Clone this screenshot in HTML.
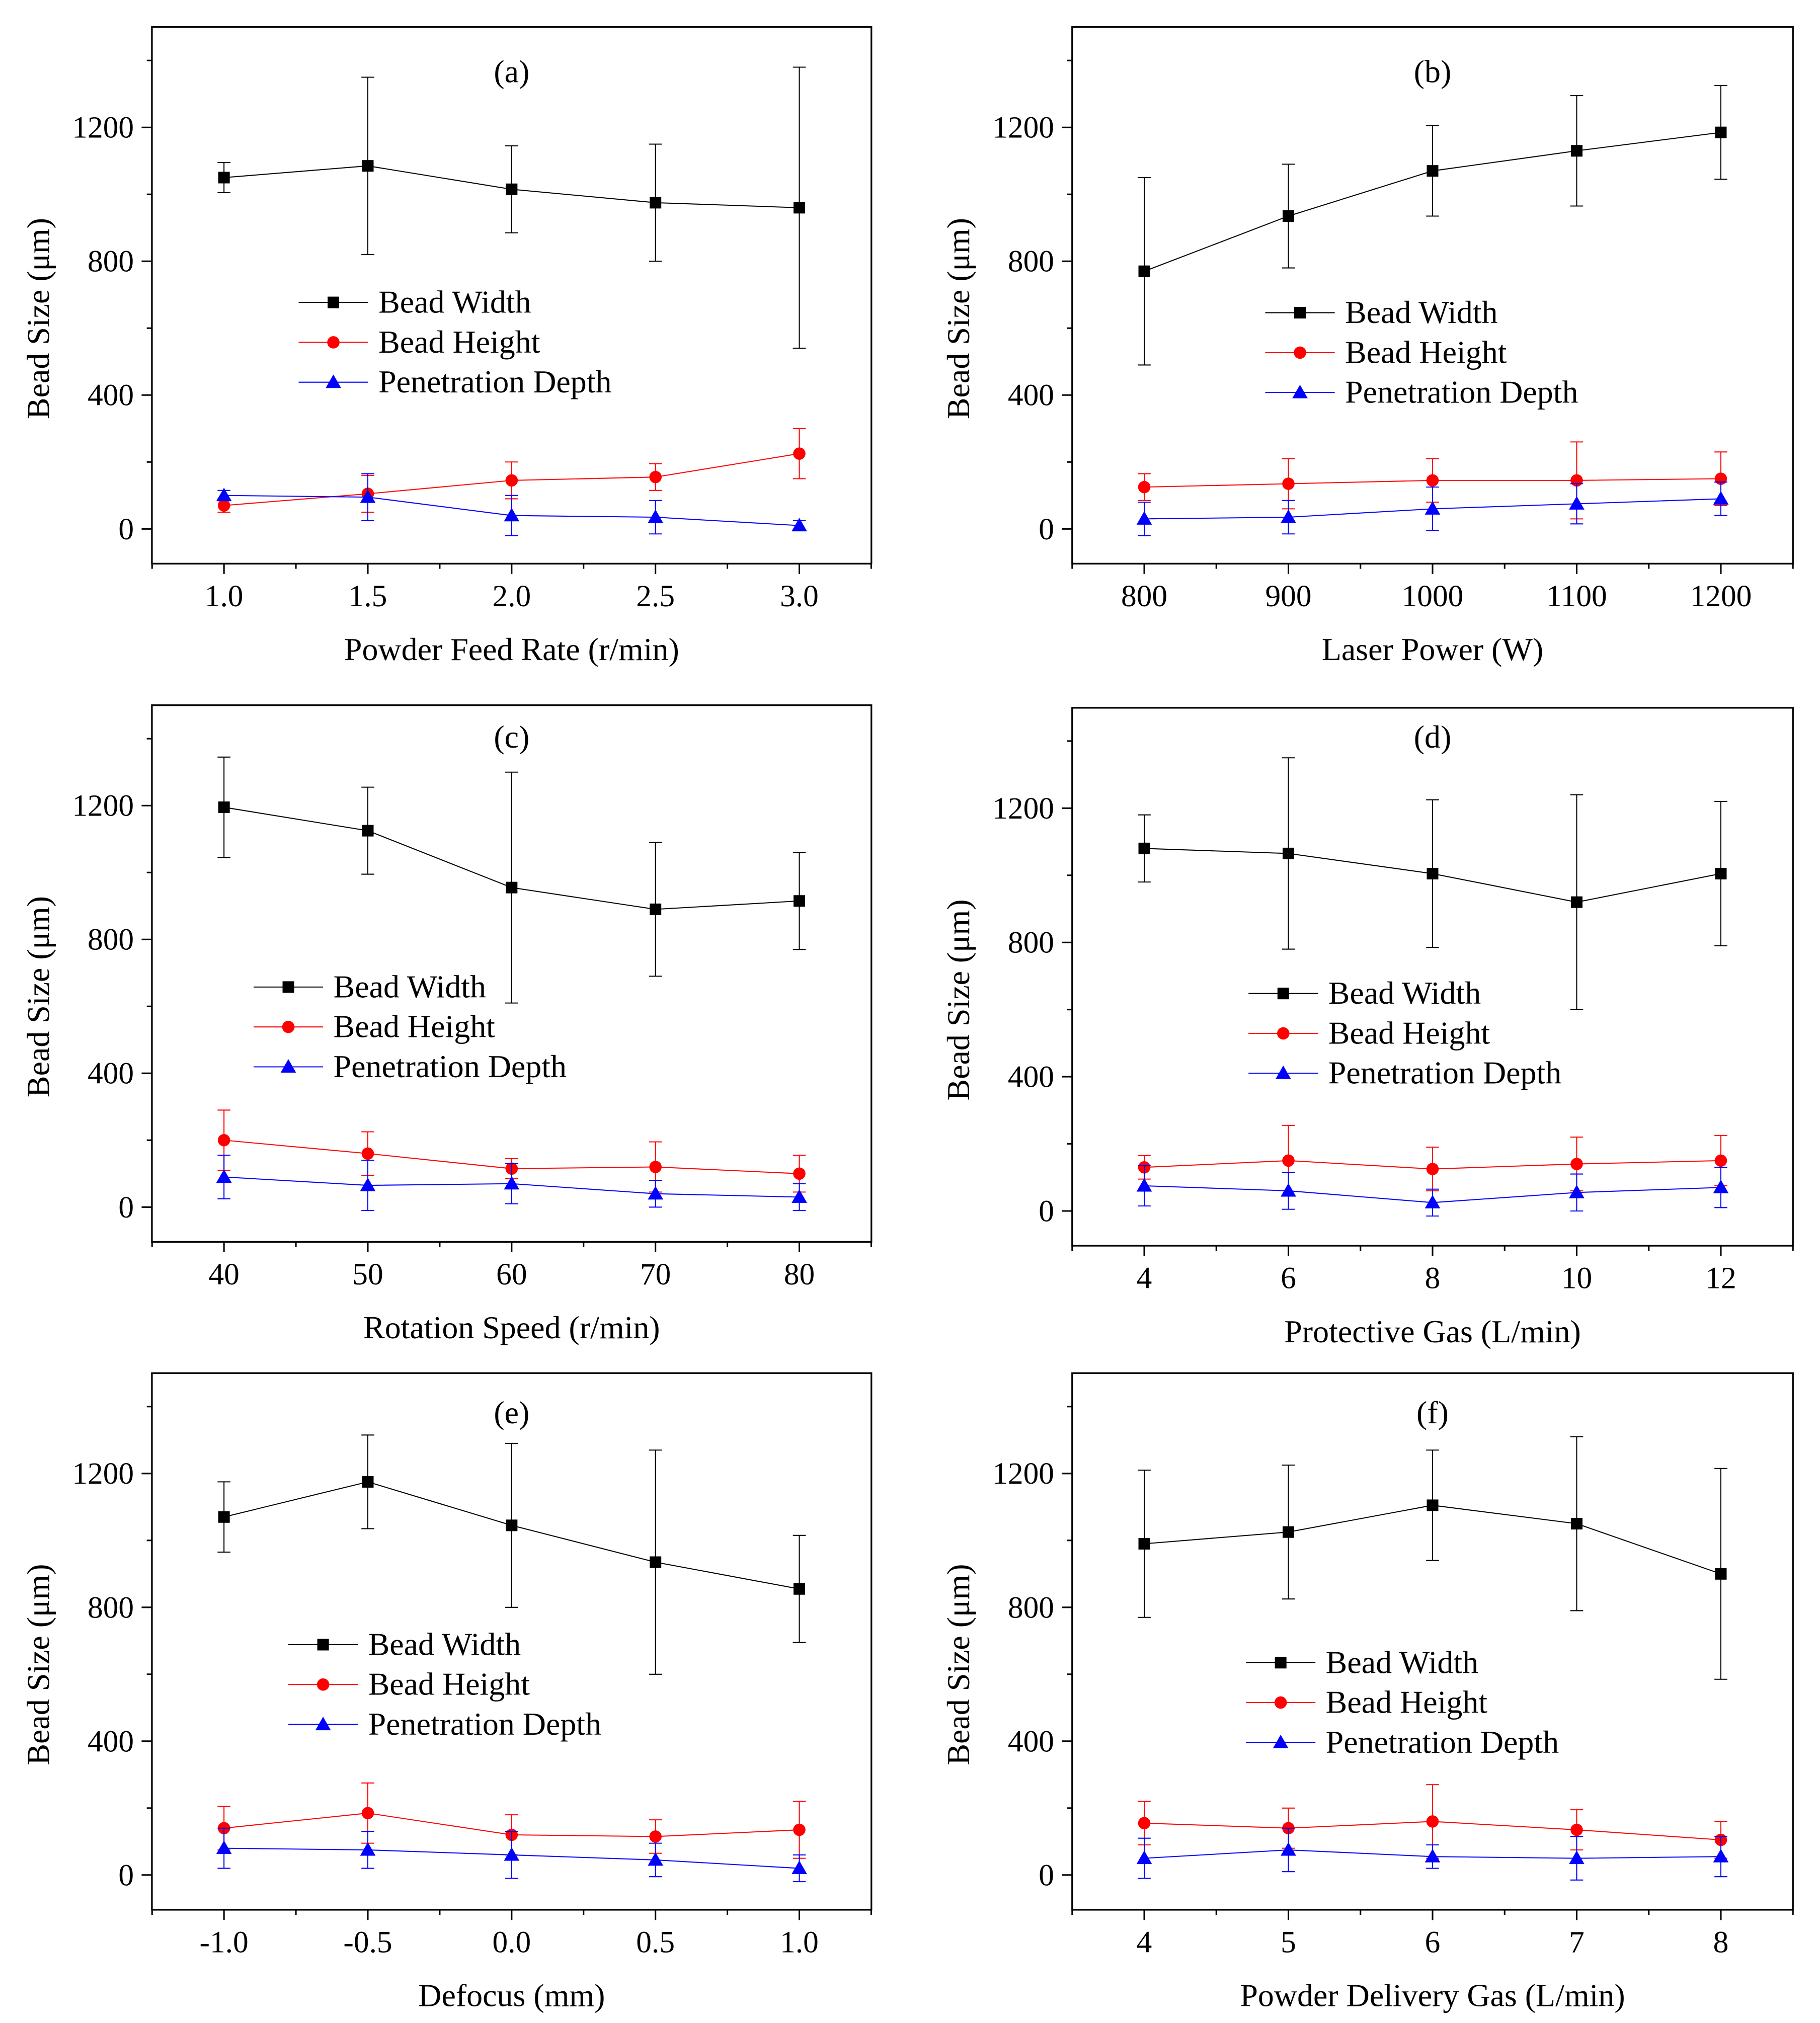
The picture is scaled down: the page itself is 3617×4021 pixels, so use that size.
<!DOCTYPE html>
<html><head><meta charset="utf-8"><style>
html,body{margin:0;padding:0;background:#fff;}
svg{display:block;}
text{font-family:"Liberation Serif","Times New Roman",serif;fill:#000;}
</style></head><body>
<svg id="fig" width="3617" height="4021" viewBox="0 0 1414 1572" xmlns="http://www.w3.org/2000/svg"></svg>
<script>
const panelLabels = ["(a)","(b)","(c)","(d)","(e)","(f)"];
const xTitles = ["Powder Feed Rate (r/min)","Laser Power (W)","Rotation Speed (r/min)","Protective Gas (L/min)","Defocus (mm)","Powder Delivery Gas (L/min)"];
const xCats = [
  ["1.0","1.5","2.0","2.5","3.0"],
  ["800","900","1000","1100","1200"],
  ["40","50","60","70","80"],
  ["4","6","8","10","12"],
  ["-1.0","-0.5","0.0","0.5","1.0"],
  ["4","5","6","7","8"]
];
const yTicks = [0,400,800,1200];
const widthVals = [[1050,1085,1015,975,960],[770,935,1070,1130,1185],[1195,1125,955,890,915],[1080,1065,1005,920,1005],[1070,1175,1045,935,855],[990,1025,1105,1050,900]];
const widthErr = [[45,265,130,175,420],[280,155,135,165,140],[150,130,345,200,145],[100,285,220,320,215],[105,140,245,335,160],[220,200,165,260,315]];
const heightVals = [[70,105,145,155,225],[125,135,145,145,150],[200,160,115,120,100],[130,150,125,140,150],[140,185,120,115,135],[155,140,160,135,105]];
const heightErr = [[20,55,55,40,75],[40,75,65,115,80],[90,65,30,75,55],[35,105,65,80,75],[65,90,60,50,85],[65,60,110,60,55]];
const depthVals = [[100,95,40,35,10],[30,35,60,75,90],[90,65,70,40,30],[75,60,25,55,70],[80,75,60,45,20],[50,75,55,50,55]];
const depthErr = [[15,70,60,50,15],[50,50,65,60,50],[65,75,60,40,40],[60,55,40,55,60],[60,55,70,50,40],[60,65,35,65,60]];
const seriesNames = ["Bead Width","Bead Height","Penetration Depth"];

const layout = [
  {x0:118,x1:677,xa:174,xb:621,y0:21,y1:438,yz:411,y12:99,lx:232,ly:235,ty:55},
  {x0:833,x1:1393,xa:889,xb:1337,y0:21,y1:438,yz:411,y12:99,lx:983,ly:243,ty:55},
  {x0:118,x1:677,xa:174,xb:621,y0:548,y1:965,yz:938,y12:626,lx:197,ly:767,ty:572},
  {x0:833,x1:1393,xa:889,xb:1337,y0:550,y1:968,yz:941,y12:628,lx:970,ly:772,ty:572},
  {x0:118,x1:677,xa:174,xb:621,y0:1067,y1:1484,yz:1457,y12:1145,lx:224,ly:1278,ty:1097},
  {x0:833,x1:1393,xa:889,xb:1337,y0:1067,y1:1484,yz:1457,y12:1145,lx:968,ly:1292,ty:1097}
];
const svg = document.getElementById('fig');
const NS = "http://www.w3.org/2000/svg";
function mk(tag, attrs, parent){const e=document.createElementNS(NS,tag);for(const k in attrs)e.setAttribute(k,attrs[k]);(parent||svg).appendChild(e);return e;}
const colors=["#000000","#ff0000","#0000ff"];

function marker(g,type,x,y,c){
  let m;
  if(type===0) m=mk('rect',{x:x-4.5,y:y-4.5,width:9,height:9,fill:c},g);
  else if(type===1) m=mk('circle',{cx:x,cy:y,r:4.8,fill:c},g);
  else m=mk('polygon',{points:`${x},${y-6} ${x-6},${y+4.5} ${x+6},${y+4.5}`,fill:c},g);
  return m;
}

layout.forEach((L,p)=>{
  const g=mk('g',{});
  
  
  const xs=i=>L.xa+i*((L.xb-L.xa)/4);
  const ys=v=>L.yz+(L.y12-L.yz)*v/1200;
  const box=mk('rect',{x:L.x0,y:L.y0,width:L.x1-L.x0,height:L.y1-L.y0,fill:'none',stroke:'#000','stroke-width':1.3},g);
  
  
  yTicks.forEach(v=>{
    mk('line',{x1:L.x0-8,x2:L.x0,y1:ys(v),y2:ys(v),stroke:'#000','stroke-width':1.2},g);
    const t=mk('text',{x:L.x0-14,y:ys(v)+8,'text-anchor':'end','font-size':24},g);
    t.textContent=v;
    
    
    mk('line',{x1:L.x0-4,x2:L.x0,y1:ys(v+200),y2:ys(v+200),stroke:'#000','stroke-width':1.2},g);
  });
  const step=(L.xb-L.xa)/4;
  xCats[p].forEach((c,i)=>{
    mk('line',{x1:xs(i),x2:xs(i),y1:L.y1,y2:L.y1+8,stroke:'#000','stroke-width':1.2},g);
    const t=mk('text',{x:xs(i),y:L.y1+33,'text-anchor':'middle','font-size':24},g);
    t.textContent=c;
    
    
    if(i<4) mk('line',{x1:xs(i)+step/2,x2:xs(i)+step/2,y1:L.y1,y2:L.y1+4,stroke:'#000','stroke-width':1.2},g);
  });
  mk('line',{x1:xs(0)-step/2,x2:xs(0)-step/2,y1:L.y1,y2:L.y1+4,stroke:'#000','stroke-width':1.2},g);
  mk('line',{x1:xs(4)+step/2,x2:xs(4)+step/2,y1:L.y1,y2:L.y1+4,stroke:'#000','stroke-width':1.2},g);
  const xt=mk('text',{x:(L.x0+L.x1)/2,y:L.y1+75,'text-anchor':'middle','font-size':25},g);
  xt.textContent=xTitles[p];
  
  
  const cy=(L.y0+L.y1)/2+18;
  const yt=mk('text',{x:L.x0-80,y:cy,'text-anchor':'middle','font-size':25,transform:`rotate(-90 ${L.x0-80} ${cy})`},g);
  yt.textContent="Bead Size (μm)";
  
  
  const pt=mk('text',{x:(L.x0+L.x1)/2,y:L.ty+9,'text-anchor':'middle','font-size':25},g);
  pt.textContent=panelLabels[p];
  
  
  const vals=[widthVals[p],heightVals[p],depthVals[p]];
  const errs=[widthErr[p],heightErr[p],depthErr[p]];
  vals.forEach((arr,s)=>{
    const c=colors[s];
    const sg=mk('g',{},g);
    
    
    arr.forEach((v,i)=>{
      const e=errs[s][i];
      mk('line',{x1:xs(i),x2:xs(i),y1:ys(v-e),y2:ys(v+e),stroke:c,'stroke-width':0.8},sg);
      mk('line',{x1:xs(i)-5,x2:xs(i)+5,y1:ys(v-e),y2:ys(v-e),stroke:c,'stroke-width':0.8},sg);
      mk('line',{x1:xs(i)-5,x2:xs(i)+5,y1:ys(v+e),y2:ys(v+e),stroke:c,'stroke-width':0.8},sg);
    });
    const line=mk('polyline',{points:arr.map((v,i)=>xs(i)+','+ys(v)).join(' '),fill:'none',stroke:c,'stroke-width':0.8},sg);
    
    
    arr.forEach((v,i)=>{
      const m=marker(sg,s,xs(i),ys(v),c);
      
      
    });
    const ly=L.ly+s*31;
    const lg=mk('g',{},g);
    
    
    mk('line',{x1:L.lx,x2:L.lx+54,y1:ly,y2:ly,stroke:c,'stroke-width':0.8},lg);
    marker(lg,s,L.lx+27,ly,c);
    const lt=mk('text',{x:L.lx+62,y:ly+8,'font-size':25},lg);
    lt.textContent=seriesNames[s];
  });
});
</script>
</body></html>
